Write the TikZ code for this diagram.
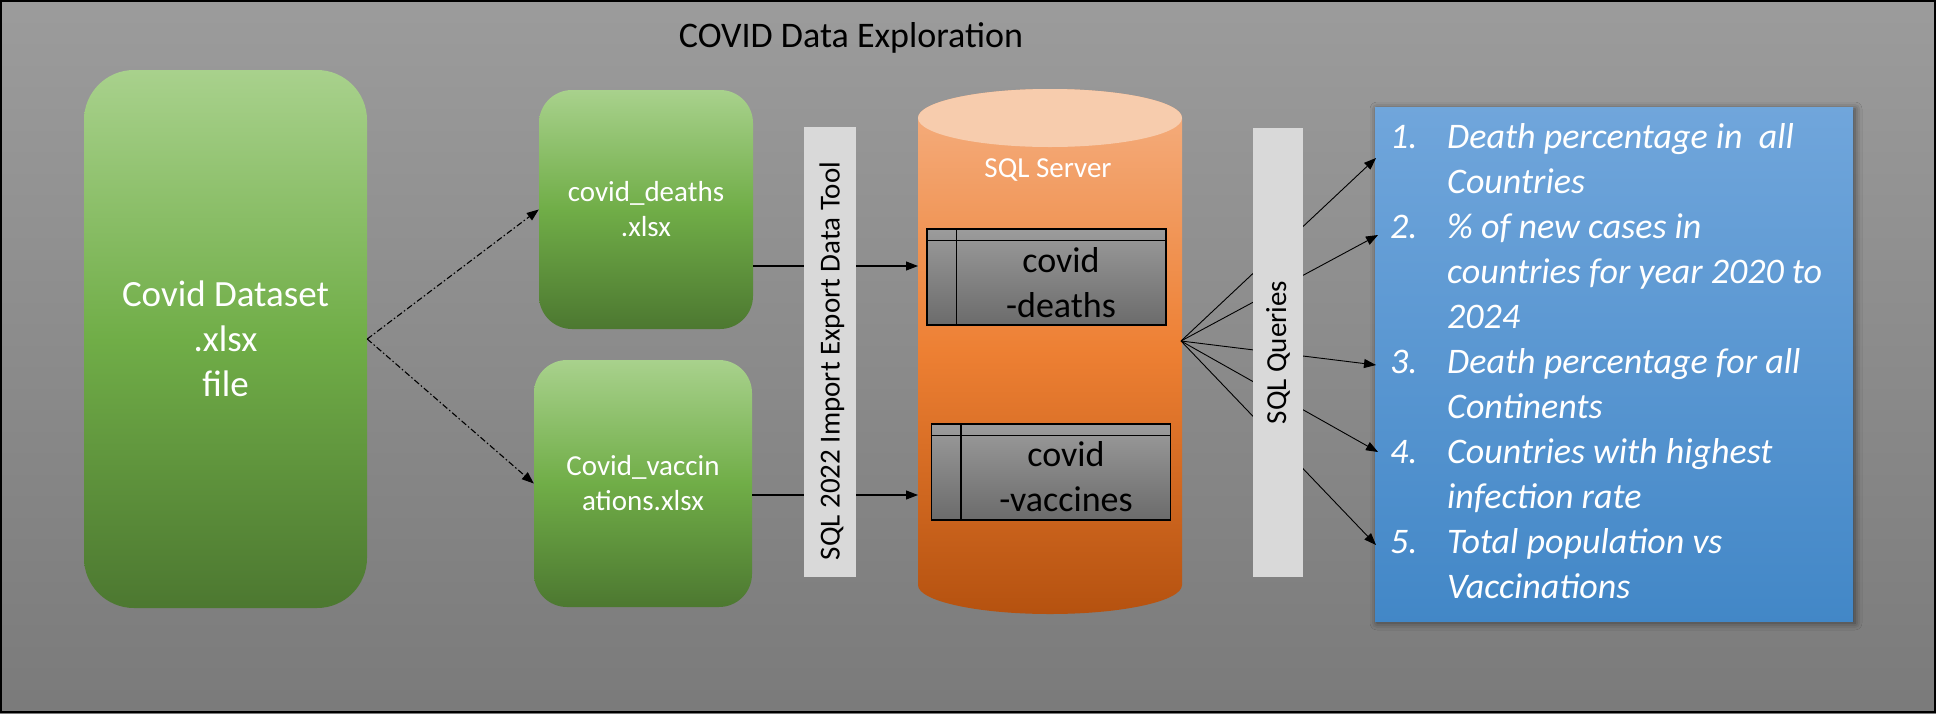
\documentclass[tikz,border=0pt]{standalone}
\usepackage{fontspec}
\setmainfont{Carlito}
\usetikzlibrary{arrows.meta,shadows.blur}

\begin{document}
\begin{tikzpicture}[x=1pt,y=1pt,
  greenbox/.style={rounded corners=#1,top color=grtop,bottom color=grbot,middle color=grmid,
    text=white,align=center,inner sep=0pt,font=\fontsize{29}{35}\selectfont},
  bar/.style={fill=barfill,rotate=90,inner sep=0pt,font=\fontsize{29}{35}\selectfont},
  tbl/.style={draw=black,line width=1.2pt,top color=tbtop,bottom color=tbbot,
    minimum width=239pt,minimum height=96pt,inner sep=0pt},
  tbltext/.style={align=center,font=\fontsize{36}{45}\selectfont},
  conn/.style={line width=1.1pt,-{Triangle[length=12pt,width=9pt]}},
  dashconn/.style={conn,dash pattern=on 6pt off 2.5pt on 1.5pt off 2.5pt}]
\definecolor{bgtop}{rgb}{0.61,0.61,0.61}
\definecolor{bgbot}{rgb}{0.48,0.48,0.48}
\definecolor{grtop}{rgb}{0.66,0.82,0.55}
\definecolor{grmid}{rgb}{0.44,0.68,0.28}
\definecolor{grbot}{rgb}{0.30,0.47,0.19}
\definecolor{orlight}{rgb}{0.96,0.69,0.51}
\definecolor{ormid}{rgb}{0.93,0.50,0.20}
\definecolor{ordark}{rgb}{0.71,0.32,0.06}
\definecolor{orcap}{rgb}{0.97,0.80,0.68}
\definecolor{tbtop}{rgb}{0.61,0.61,0.61}
\definecolor{tbbot}{rgb}{0.42,0.42,0.42}
\definecolor{barfill}{rgb}{0.85,0.85,0.85}
\definecolor{bltop}{rgb}{0.44,0.65,0.86}
\definecolor{blbot}{rgb}{0.26,0.53,0.78}
\useasboundingbox (0,0) rectangle (1936,-713);
\shade[top color=bgtop,bottom color=bgbot] (0,0) rectangle (1936,-713);
% title
\node[anchor=base,font=\fontsize{36}{43}\selectfont] (title) at (851,-47) {COVID Data Exploration};
% source files
\node[greenbox=50pt,minimum width=283pt,minimum height=538pt,font=\fontsize{37}{45}\selectfont] (dataset) at (225.5,-339) {Covid Dataset\\.xlsx\\file};
\node[greenbox=33pt,minimum width=214pt,minimum height=239pt] (deaths) at (646,-209.5) {covid\_deaths\\.xlsx};
\node[greenbox=33pt,minimum width=218pt,minimum height=247pt] (vacc) at (643,-483.5) {Covid\_vaccin\\ations.xlsx};
\draw[dashconn] (dataset.east) -- (deaths.west);
\draw[dashconn] (dataset.east) -- (vacc.west);
% sql server
\shade[top color=orlight,bottom color=ordark,middle color=ormid] (918,-118) -- (918,-585)
  arc[start angle=180,end angle=360,x radius=132,y radius=29] -- (1182,-118)
  arc[start angle=0,end angle=180,x radius=132,y radius=29] -- cycle;
\fill[orcap] (1050,-118) ellipse [x radius=132,y radius=29];
\node[anchor=base,text=white,font=\fontsize{29}{35}\selectfont] (server) at (1048,-177) {SQL Server};
\coordinate (cin1) at (918,-266);
\coordinate (cin2) at (918,-495);
\coordinate (srv) at (1181,-341);
\node[tbl] (tdeaths) at (1046.5,-277) {};
\draw[line width=1.2pt] ([yshift=-12pt]tdeaths.north west) -- ([yshift=-12pt]tdeaths.north east);
\draw[line width=1.2pt] ([xshift=30pt]tdeaths.north west) -- ([xshift=30pt]tdeaths.south west);
\node[tbltext] (tdeathslbl) at (1061,-283) {covid\\-deaths};
\node[tbl] (tvacc) at (1051,-472) {};
\draw[line width=1.2pt] ([yshift=-12pt]tvacc.north west) -- ([yshift=-12pt]tvacc.north east);
\draw[line width=1.2pt] ([xshift=30pt]tvacc.north west) -- ([xshift=30pt]tvacc.south west);
\node[tbltext] (tvacclbl) at (1066,-477) {covid\\-vaccines};
\draw[conn] (deaths.east |- cin1) -- (cin1);
\draw[conn] (vacc.east |- cin2) -- (cin2);
\node[bar,minimum width=450pt,minimum height=52pt] (importbar) at (830,-352) {};
\node[rotate=90,inner sep=0pt,font=\fontsize{29}{35}\selectfont] (importlbl) at (832,-361) {SQL 2022 Import Export Data Tool};
% queries
\node[top color=bltop,bottom color=blbot,minimum width=478pt,minimum height=514pt,inner sep=0pt,
  blur shadow={shadow xshift=2pt,shadow yshift=-2pt,shadow blur radius=7pt,shadow opacity=55}] (qlist) at (1614,-364) {};
\coordinate (q1) at (1376,-158);
\coordinate (q2) at (1378,-235);
\coordinate (q3) at (1376,-365);
\coordinate (q4) at (1378,-452);
\coordinate (q5) at (1376,-545);
\foreach \q in {q1,q2,q3,q4,q5}
  \draw[conn,line width=0.9pt] (srv) -- (\q);
\node[bar,minimum width=449pt,minimum height=50pt] (querybar) at (1278,-352.5) {SQL Queries};
\node[anchor=north west,inner sep=0pt,align=left,text=white,font=\fontsize{36}{45}\selectfont\itshape] (qtext) at (1390,-116.5)
  {\strut\makebox[57pt][l]{1.}Death percentage in\ \ all\\
   \hspace*{57pt}Countries\\
   \makebox[57pt][l]{2.}\% of new cases in\\
   \hspace*{57pt}countries for year 2020 to\\
   \hspace*{57pt}2024\\
   \makebox[57pt][l]{3.}Death percentage for all\\
   \hspace*{57pt}Continents\\
   \makebox[57pt][l]{4.}Countries with highest\\
   \hspace*{57pt}infection rate\\
   \makebox[57pt][l]{5.}Total population vs\\
   \hspace*{57pt}Vaccinations};
\draw[line width=2pt] (1,-1) rectangle (1935,-712);
\end{tikzpicture}
\end{document}
